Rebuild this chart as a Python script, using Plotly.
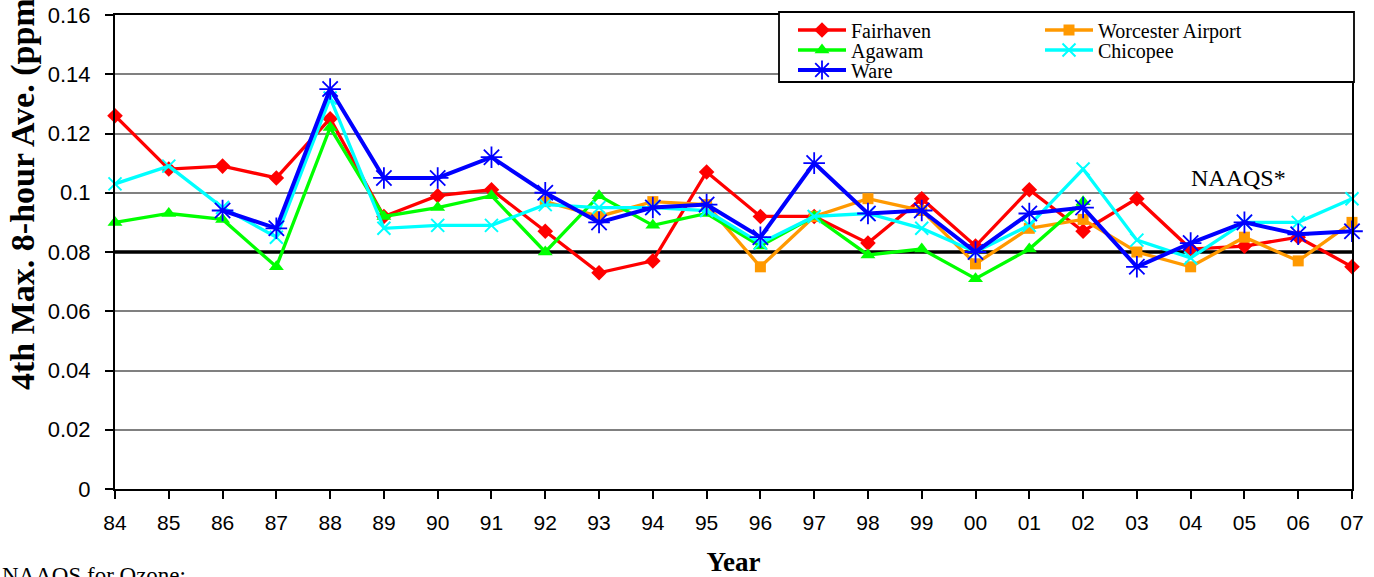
import plotly.graph_objects as go

years = ["84", "85", "86", "87", "88", "89", "90", "91", "92", "93", "94", "95",
         "96", "97", "98", "99", "00", "01", "02", "03", "04", "05", "06", "07"]

fairhaven = [0.126, 0.108, 0.109, 0.105, 0.125, 0.092, 0.099, 0.101, 0.087, 0.073, 0.077, 0.107,
             0.092, 0.092, 0.083, 0.098, 0.082, 0.101, 0.087, 0.098, 0.081, 0.082, 0.085, 0.075]
worcester = [None, None, None, None, None, None, None, None, 0.097, 0.092, 0.097, 0.096,
             0.075, 0.092, 0.098, 0.094, 0.076, 0.088, 0.091, 0.080, 0.075, 0.085, 0.077, 0.090]
agawam = [0.090, 0.093, 0.091, 0.075, 0.122, 0.092, 0.095, 0.099, 0.080, 0.099, 0.089, 0.093,
          0.082, 0.092, 0.079, 0.081, 0.071, 0.081, 0.097, None, None, None, None, None]
chicopee = [0.103, 0.109, 0.095, 0.085, 0.132, 0.088, 0.089, 0.089, 0.096, 0.095, 0.095, 0.094,
            0.083, 0.092, 0.093, 0.088, 0.080, 0.089, 0.108, 0.084, 0.078, 0.090, 0.090, 0.098]
ware = [None, None, 0.094, 0.088, 0.135, 0.105, 0.105, 0.112, 0.100, 0.090, 0.095, 0.096,
        0.085, 0.110, 0.093, 0.094, 0.080, 0.093, 0.095, 0.075, 0.083, 0.090, 0.086, 0.087]

naaqs = 0.08
y_ticks = [0, 0.02, 0.04, 0.06, 0.08, 0.1, 0.12, 0.14, 0.16]
y_tick_labels = ["0", "0.02", "0.04", "0.06", "0.08", "0.1", "0.12", "0.14", "0.16"]

# plot area in pixels (used only for placing text/legend boxes)
L, R, T, B = 115, 1352, 15, 489
W, H = R - L, B - T


def px(x):
    return (x - L) / W


def py(y):
    return (B - y) / H


fig = go.Figure()

# NAAQS standard line
fig.add_trace(go.Scatter(x=[years[0], years[-1]], y=[naaqs, naaqs], mode="lines",
                         line=dict(color="black", width=3.5), showlegend=False,
                         hoverinfo="skip", cliponaxis=False))

# name, values, colour, symbol, size, line width, marker line width, legend, legend pos (x, y px)
series = [
    ("Fairhaven", fairhaven, "#FF0000", "diamond", 12, 3.3, 0, "legend", (793, 30)),
    ("Worcester Airport", worcester, "#FF9900", "square", 11, 3.3, 0, "legend2", (1040, 30)),
    ("Agawam", agawam, "#00FF00", "triangle-up", 13, 3.3, 0, "legend3", (793, 50)),
    ("Chicopee", chicopee, "#00FFFF", "x-thin-open", 13, 3.3, 2, "legend4", (1040, 50)),
    ("Ware", ware, "#0000FF", "asterisk-open", 18, 4, 1.8, "legend5", (793, 70)),
]
leg_font = dict(family="Liberation Serif, Times New Roman", size=20, color="black")
legends = {}
for name, vals, color, sym, size, lw, mlw, leg, (lx, ly) in series:
    fig.add_trace(go.Scatter(
        x=years, y=vals, name=name, mode="lines+markers",
        line=dict(color=color, width=lw),
        marker=dict(symbol=sym, size=size, color=color,
                    line=dict(color=color, width=mlw)),
        cliponaxis=False, connectgaps=False, legend=leg,
    ))
    legends[leg] = dict(x=px(lx), y=py(ly), xanchor="left", yanchor="middle",
                        bgcolor="rgba(0,0,0,0)", borderwidth=0, font=leg_font,
                        itemwidth=48)

fig.update_layout(
    width=1374, height=577,
    margin=dict(l=L, r=1374 - R, t=T, b=577 - B, autoexpand=False),
    paper_bgcolor="white", plot_bgcolor="white",
    font=dict(family="Liberation Sans, Arial", color="black"),
    showlegend=True,
    xaxis=dict(
        type="category", categoryorder="array", categoryarray=years,
        range=[0, 23], showgrid=False, automargin=False,
        showline=True, linecolor="black", linewidth=2, mirror=True,
        ticks="outside", ticklen=8, tickwidth=2, tickcolor="black",
        tickfont=dict(family="Liberation Sans, Arial", size=21),
        ticklabelstandoff=6,
        title=dict(text="<b>Year</b>", standoff=20,
                   font=dict(family="Liberation Serif, Times New Roman", size=27)),
    ),
    yaxis=dict(
        range=[0, 0.16], tickvals=y_ticks, ticktext=y_tick_labels,
        showgrid=True, gridcolor="#808080", gridwidth=1.5, automargin=False,
        showline=True, linecolor="black", linewidth=2, mirror=True,
        ticks="outside", ticklen=8, tickwidth=2, tickcolor="black",
        tickfont=dict(family="Liberation Sans, Arial", size=22),
        ticklabelstandoff=10, zeroline=False,
    ),
    shapes=[
        dict(type="rect", xref="paper", yref="paper", layer="above",
             x0=px(779), x1=px(1354), y0=py(82), y1=py(12),
             fillcolor="white", line=dict(color="black", width=1.8)),
    ],
    annotations=[
        dict(text="<b>4th Max. 8-hour Ave. (ppm)</b>", textangle=-90,
             xref="paper", yref="paper", x=px(23), y=py(189),
             xanchor="center", yanchor="middle", showarrow=False,
             font=dict(family="Liberation Serif, Times New Roman", size=34, color="black")),
        dict(text="NAAQS*", xref="paper", yref="paper",
             x=px(1238), y=py(178),
             xanchor="center", yanchor="middle", showarrow=False,
             font=dict(family="Liberation Serif, Times New Roman", size=24, color="black")),
        dict(text="NAAQS for Ozone:", xref="paper", yref="paper",
             x=px(0), y=py(575),
             xanchor="left", yanchor="middle", showarrow=False,
             font=dict(family="Liberation Serif, Times New Roman", size=23, color="black")),
    ],
)
fig.update_layout(**legends)

fig.write_html("out.html", config={"displayModeBar": False},
               post_script="document.body.style.margin='0';")
